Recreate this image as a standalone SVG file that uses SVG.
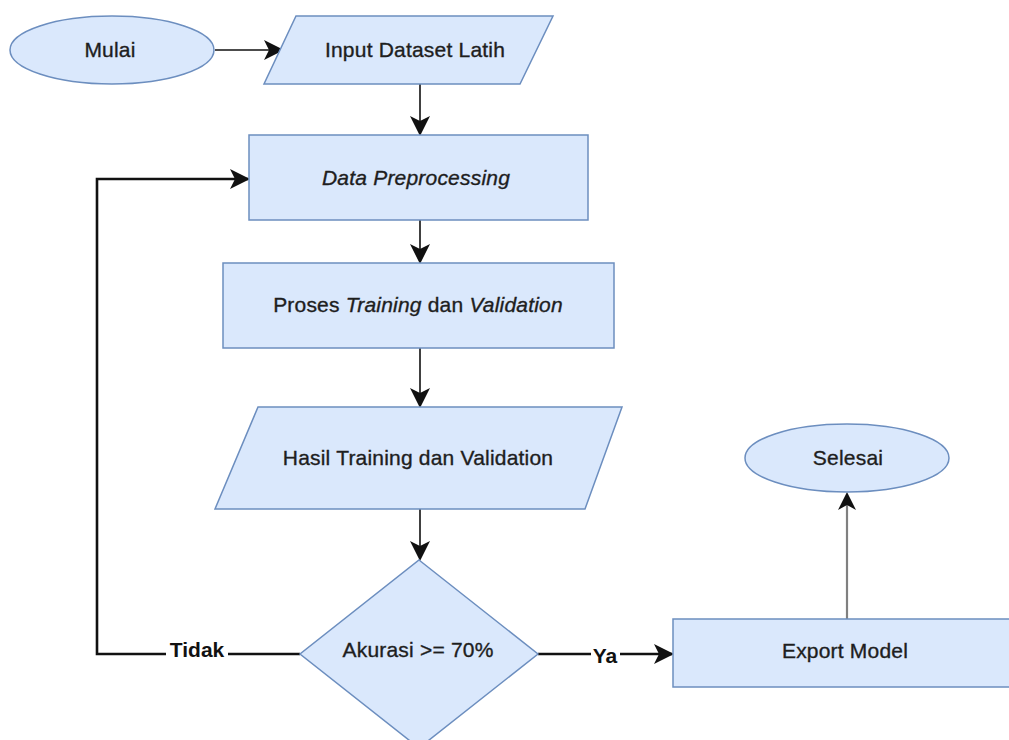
<svg xmlns="http://www.w3.org/2000/svg" width="1009" height="740" viewBox="0 0 1009 740">
<style>
.shape{fill:#dae8fc;stroke:#6c8ebf;stroke-width:1.5}
.lbl{font-family:"Liberation Sans",Arial,sans-serif;font-size:21px;fill:#1e1e1e;stroke:#1e1e1e;stroke-width:0.35;text-anchor:middle;letter-spacing:0.2px}
.edge{fill:none;stroke:#111;stroke-width:1.6}
.thick{fill:none;stroke:#111;stroke-width:2.6}
.elbl{font-family:"Liberation Sans",Arial,sans-serif;font-size:21px;font-weight:bold;fill:#111;text-anchor:middle}
</style>
<defs>
<marker id="arrB" viewBox="0 0 10 10" refX="9" refY="5" markerWidth="20" markerHeight="20" markerUnits="userSpaceOnUse" orient="auto">
<path d="M0,0 L10,5 L0,10 L2.5,5 Z" fill="#111"/>
</marker>
</defs>
<rect width="1009" height="740" fill="#fff"/>
<g id="connectors">
<line class="edge" x1="215" y1="50" x2="282" y2="50" marker-end="url(#arrB)"/>
<line class="edge" x1="420" y1="84" x2="420" y2="134" marker-end="url(#arrB)"/>
<line class="edge" x1="420" y1="220" x2="420" y2="262" marker-end="url(#arrB)"/>
<line class="edge" x1="420" y1="348" x2="420" y2="406" marker-end="url(#arrB)"/>
<line class="edge" x1="420" y1="509" x2="420" y2="559" marker-end="url(#arrB)"/>
<path class="thick" d="M300,654 L97,654 L97,179 L248,179" marker-end="url(#arrB)"/>
<path class="thick" d="M538,654 L672,654" marker-end="url(#arrB)"/>
<line x1="847" y1="619" x2="847" y2="500" stroke="#808080" stroke-width="2.2"/>
<path d="M847,492 L856,510 L847,505 L838,510 Z" fill="#111"/>
<rect x="166" y="640" width="62" height="24" fill="#fff"/>
<text class="elbl" x="197" y="657">Tidak</text>
<rect x="591" y="642" width="29" height="24" fill="#fff"/>
<text class="elbl" x="605" y="663">Ya</text>
</g>
<g id="mulai">
<ellipse class="shape" cx="112" cy="50" rx="102" ry="34"/>
<text class="lbl" x="110" y="57">Mulai</text>
</g>
<g id="input">
<polygon class="shape" points="296,16 553,16 520,84 264,84"/>
<text class="lbl" x="415" y="57">Input Dataset Latih</text>
</g>
<g id="preprocessing">
<rect class="shape" x="249" y="135" width="339" height="85"/>
<text class="lbl" x="416" y="185" font-style="italic">Data Preprocessing</text>
</g>
<g id="proses">
<rect class="shape" x="223" y="263" width="391" height="85"/>
<text class="lbl" x="418" y="312">Proses <tspan font-style="italic">Training</tspan> dan <tspan font-style="italic">Validation</tspan></text>
</g>
<g id="hasil">
<polygon class="shape" points="258,407 622,407 585,509 215,509"/>
<text class="lbl" x="418" y="465">Hasil Training dan Validation</text>
</g>
<g id="decision">
<polygon class="shape" points="419,560 538,654 419,748 300,654"/>
<text class="lbl" x="418" y="657">Akurasi &gt;= 70%</text>
</g>
<g id="export">
<rect class="shape" x="673" y="619" width="345" height="68"/>
<text class="lbl" x="845" y="658">Export Model</text>
</g>
<g id="selesai">
<ellipse class="shape" cx="847" cy="458" rx="102" ry="34"/>
<text class="lbl" x="848" y="465">Selesai</text>
</g>
</svg>
